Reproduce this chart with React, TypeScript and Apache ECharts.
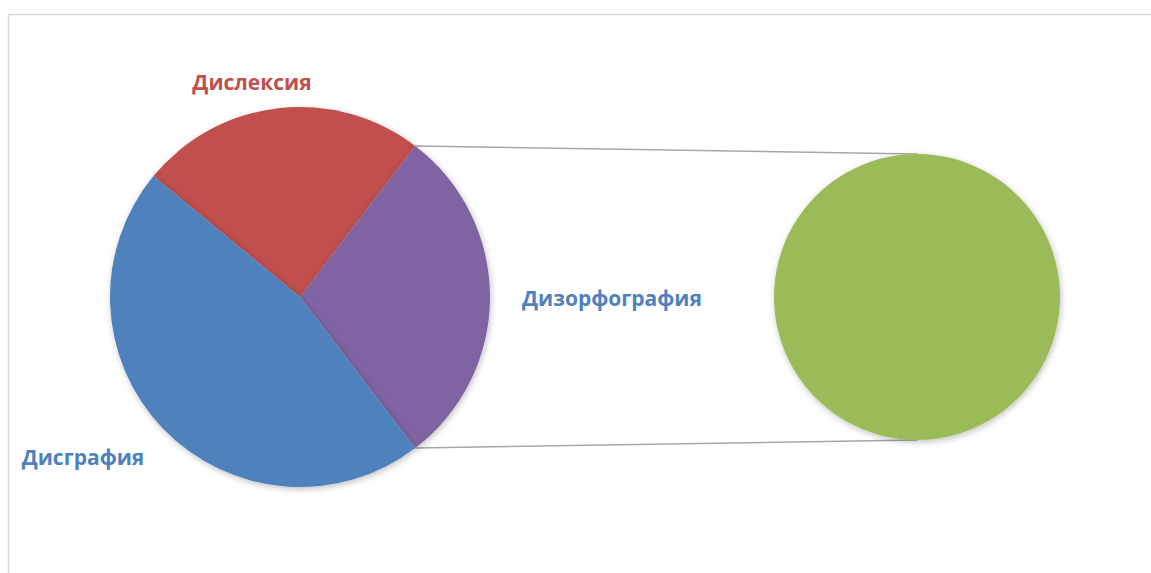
import React, { useEffect, useRef } from "react";
import * as echarts from "echarts";

const mainNames = ["Дислексия", "Дизорфография", "Дисграфия"];
const mainValues = [10, 12, 19];
const mainColors = ["#C0504D", "#8064A2", "#4F81BD"];
const labelColors = ["#C0504D", "#4F81BD", "#4F81BD"];
const secondNames = ["Дизорфография"];
const secondValues = [12];
const secondColors = ["#9BBB59"];

const W = 1151;
const H = 573;

export default function App() {
  const ref = useRef<HTMLDivElement>(null);
  useEffect(() => {
    if (!ref.current) return;
    const chart = echarts.init(ref.current, undefined, { renderer: "svg" });
    const total = mainValues.reduce((a, b) => a + b, 0);
    const redDeg = (mainValues[0] / total) * 360;
    const purpleDeg = (mainValues[1] / total) * 360;
    const startAngle = redDeg + purpleDeg / 2;
    const c1 = [300, 297];
    const r1 = 190;
    const c2 = [917, 297];
    const r2 = 143;
    const half = ((purpleDeg / 2) * Math.PI) / 180;
    const p1 = [c1[0] + r1 * Math.cos(half), c1[1] - r1 * Math.sin(half)];
    const p2 = [c1[0] + r1 * Math.cos(half), c1[1] + r1 * Math.sin(half)];

    const mainLabelPos: Record<number, [number, number]> = {
      0: [252, 82],
      2: [83, 457],
    };

    chart.setOption({
      animation: false,
      backgroundColor: "#ffffff",
      graphic: [
        {
          type: "rect",
          shape: { x: 8.5, y: 14.5, width: 1300, height: 700 },
          style: { fill: "none", stroke: "#d9d9d9", lineWidth: 1.5 },
          z: 0,
        },
        {
          type: "line",
          shape: { x1: p1[0], y1: p1[1], x2: c2[0], y2: c2[1] - r2 },
          style: { stroke: "#a6a6a6", lineWidth: 1.5 },
          z: 1,
        },
        {
          type: "line",
          shape: { x1: p2[0], y1: p2[1], x2: c2[0], y2: c2[1] + r2 },
          style: { stroke: "#a6a6a6", lineWidth: 1.5 },
          z: 1,
        },
      ],
      series: [
        {
          type: "pie",
          center: c1,
          radius: r1,
          startAngle,
          clockwise: true,
          data: mainNames.map((n, i) => ({
            name: n,
            value: mainValues[i],
            itemStyle: { color: mainColors[i] },
            label: { show: i !== 1, color: labelColors[i] },
          })),
          itemStyle: {
            borderWidth: 0,
            shadowBlur: 6,
            shadowColor: "rgba(0,0,0,0.25)",
            shadowOffsetX: 1,
            shadowOffsetY: 2,
          },
          label: {
            position: "outside",
            formatter: "{b}",
            fontFamily: "Open Sans",
            fontWeight: "bold",
            fontSize: 21,
            overflow: "none",
          },
          labelLine: { show: false },
          labelLayout: (params: any) => {
            const p = mainLabelPos[params.dataIndex];
            if (!p) return {};
            return { x: p[0], y: p[1], align: "center", verticalAlign: "middle" };
          },
          emphasis: { disabled: true },
          silent: true,
        },
        {
          type: "pie",
          center: c2,
          radius: r2,
          data: secondNames.map((n, i) => ({
            name: n,
            value: secondValues[i],
            itemStyle: { color: secondColors[i] },
          })),
          itemStyle: {
            borderWidth: 0,
            shadowBlur: 6,
            shadowColor: "rgba(0,0,0,0.25)",
            shadowOffsetX: 1,
            shadowOffsetY: 2,
          },
          label: {
            show: true,
            position: "outside",
            formatter: "{b}",
            color: "#4F81BD",
            fontFamily: "Open Sans",
            fontWeight: "bold",
            fontSize: 21,
            overflow: "none",
          },
          labelLine: { show: false },
          labelLayout: () => ({ x: 612, y: 298, align: "center", verticalAlign: "middle" }),
          emphasis: { disabled: true },
          silent: true,
        },
      ],
    });
    return () => chart.dispose();
  }, []);
  return (
    <div
      ref={ref}
      style={{ position: "fixed", left: 0, top: 0, width: W, height: H }}
    />
  );
}
